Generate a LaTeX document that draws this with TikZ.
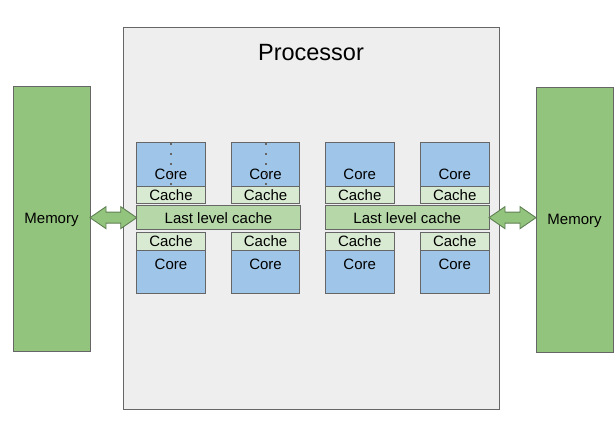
\documentclass[tikz,border=0pt]{standalone}
\usepackage{fontspec}
\setmainfont{Liberation Sans}
\usetikzlibrary{calc}
\definecolor{procfill}{HTML}{EEEEEE}
\definecolor{corefill}{HTML}{9FC5E8}
\definecolor{cachefill}{HTML}{D9EAD3}
\definecolor{llcfill}{HTML}{B6D7A8}
\definecolor{memfill}{HTML}{93C47D}
\definecolor{edge}{HTML}{666666}
\definecolor{arrowedge}{HTML}{5E7F52}
\tikzset{
  box/.style={draw=edge, line width=0.9pt, inner sep=0pt, outer sep=0pt, anchor=north west, font=\fontsize{15}{17}\selectfont},
  procbox/.style={box, fill=procfill},
  corebox/.style={box, fill=corefill, minimum width=68.5pt},
  cachebox/.style={box, fill=cachefill, minimum width=68.5pt, minimum height=17.5pt},
  llcbox/.style={box, fill=llcfill, minimum width=163.5pt, minimum height=24.5pt},
  membox/.style={box, fill=memfill, minimum width=77pt, minimum height=265pt},
  lbl/.style={inner sep=0pt, font=\fontsize{15}{17}\selectfont},
  dotline/.style={draw=edge, line width=2pt, dash pattern=on 2pt off 8pt},
  bigarrow/.style={draw=arrowedge, fill=memfill, line width=0.9pt, line join=miter}
}
\begin{document}
\begin{tikzpicture}[x=1pt,y=-1pt]
\useasboundingbox (0,0) rectangle (615,432);
% processor
\node[procbox, minimum width=376pt, minimum height=382pt] (proc) at (123,27) {};
\node[inner sep=0pt, font=\fontsize{23.5}{26}\selectfont] (proctitle) at (311,52.5) {Processor};
% memories
\node[membox] (memL) at (13,86) {};
\node[lbl] (memLtxt) at ($(memL.center)+(0,1)$) {Memory};
\node[membox] (memR) at (536,87) {};
\node[lbl] (memRtxt) at ($(memR.center)+(0,1)$) {Memory};
% core groups
\foreach \n/\x in {a/136.7, b/231.3, c/325.5, d/420.5}{
  \node[corebox, minimum height=43.3pt] (core-\n-t) at (\x,142.7) {};
  \node[cachebox] (cache-\n-t) at (\x,186) {Cache};
  \node[cachebox] (cache-\n-b) at (\x,232.6) {Cache};
  \node[corebox, minimum height=43.4pt] (core-\n-b) at (\x,250.1) {};
  \node[lbl] (coretxt-\n-t) at ($(core-\n-t.south)+(0,-12)$) {Core};
  \node[lbl] (coretxt-\n-b) at ($(core-\n-b.north)+(0,14)$) {Core};
}
\node[llcbox] (llcL) at (136.7,205.4) {Last level cache};
\node[llcbox] (llcR) at (325.5,205.4) {Last level cache};
% dotted lines in left cores
\draw[dotline] ($(core-a-t.north)+(0,0.7)$) -- (core-a-t.south);
\draw[dotline] ($(core-b-t.north)+(0,0.7)$) -- (core-b-t.south);
% arrows
\coordinate (a1) at (memL.east|-llcL.west);
\coordinate (a2) at (llcL.west);
\draw[bigarrow] (a1) -- ($(a1)+(16,-11)$) -- ($(a1)+(16,-5.5)$) -- ($(a2)+(-16,-5.5)$) -- ($(a2)+(-16,-11)$) -- (a2)
  -- ($(a2)+(-16,11)$) -- ($(a2)+(-16,5.5)$) -- ($(a1)+(16,5.5)$) -- ($(a1)+(16,11)$) -- cycle;
\coordinate (b1) at (llcR.east);
\coordinate (b2) at (memR.west|-llcR.east);
\draw[bigarrow] (b1) -- ($(b1)+(16,-11)$) -- ($(b1)+(16,-5.5)$) -- ($(b2)+(-16,-5.5)$) -- ($(b2)+(-16,-11)$) -- (b2)
  -- ($(b2)+(-16,11)$) -- ($(b2)+(-16,5.5)$) -- ($(b1)+(16,5.5)$) -- ($(b1)+(16,11)$) -- cycle;
\end{tikzpicture}
\end{document}
